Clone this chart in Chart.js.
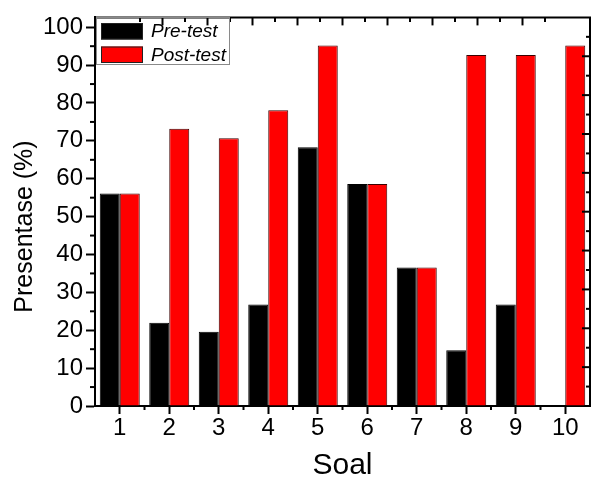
<!DOCTYPE html>
<html><head><meta charset="utf-8">
<script src="https://cdn.jsdelivr.net/npm/chart.js@4/dist/chart.umd.min.js"></script>
<style>html,body{margin:0;padding:0;background:#fff;}canvas{display:block;}</style>
</head><body>
<canvas id="c" width="593" height="477"></canvas>
<script>
const categories = ['1','2','3','4','5','6','7','8','9','10'];
const seriesNames = ['Pre-test','Post-test'];
const preTest  = [56.1, 22.0, 19.6, 26.8, 68.3, 58.6, 36.6, 14.7, 26.8, 0];
const postTest = [56.1, 73.2, 70.7, 78.1, 95.2, 58.6, 36.6, 92.7, 92.7, 95.2];
const yTicks = [0,10,20,30,40,50,60,70,80,90,100];
const yMinorTicks = [5,15,25,35,45,55,65,75,85,95];
const xMinorTicks = [1.5,2.5,3.5,4.5,5.5,6.5,7.5,8.5,9.5];
const topMajorTicks = [1,2,3,4,5,6,7,8,9];
const topMinorTicks = [0.5,1.5,2.5,3.5,4.5,5.5,6.5,7.5,8.5,9.5];
const rightMajorTicks = [10,20,30,40,50,60,70,80,90];
const rightMinorTicks = [5,15,25,35,45,55,65,75,85,95];

const FONT = "'Liberation Sans', Arial, sans-serif";

const framePlugin = {
  id: 'frame',
  afterDraw(chart) {
    const {ctx, chartArea: a, scales} = chart;
    ctx.save();
    ctx.strokeStyle = '#000';
    ctx.lineWidth = 2;
    ctx.lineCap = 'butt';
    const seg = (x1, y1, x2, y2) => { ctx.beginPath(); ctx.moveTo(x1, y1); ctx.lineTo(x2, y2); ctx.stroke(); };
    ctx.beginPath();
    ctx.moveTo(a.left - 1, a.top);
    ctx.lineTo(a.right, a.top);
    ctx.lineTo(a.right, a.bottom + 1);
    ctx.stroke();
    yMinorTicks.forEach(v => { const y = scales.y.getPixelForValue(v); seg(a.left - 5, y, a.left, y); });
    xMinorTicks.forEach(v => { const x = scales.x.getPixelForValue(v - 1); seg(x, a.bottom, x, a.bottom + 4); });
    topMajorTicks.forEach(v => { const x = scales.x2.getPixelForValue(v); seg(x, a.top, x, a.top + 8); });
    topMinorTicks.forEach(v => { const x = scales.x2.getPixelForValue(v); seg(x, a.top, x, a.top + 4.5); });
    rightMajorTicks.forEach(v => { const y = scales.y2.getPixelForValue(v); seg(a.right, y, a.right - 8, y); });
    rightMinorTicks.forEach(v => { const y = scales.y2.getPixelForValue(v); seg(a.right, y, a.right - 4, y); });

    ctx.lineWidth = 1;
    ctx.strokeStyle = '#8a8a8a';
    ctx.strokeRect(96.5, 17.5, 133, 47);
    const ds = chart.data.datasets;
    const rows = [31, 54.5];
    ds.forEach((d, i) => {
      const cy = rows[i];
      ctx.fillStyle = d.backgroundColor;
      ctx.fillRect(101, cy - 8, 42, 16.5);
      ctx.strokeStyle = '#222';
      ctx.strokeRect(101.5, cy - 7.5, 41, 15.5);
      ctx.fillStyle = '#000';
      ctx.font = 'italic 19px ' + FONT;
      ctx.textAlign = 'left';
      ctx.textBaseline = 'middle';
      ctx.fillText(d.label, 151, cy + 1);
    });

    ctx.save();
    ctx.translate(25, 226.5);
    ctx.rotate(-Math.PI / 2);
    ctx.font = '25px ' + FONT;
    ctx.fillStyle = '#000';
    ctx.textAlign = 'center';
    ctx.textBaseline = 'middle';
    ctx.fillText('Presentase (%)', 0, 0);
    ctx.restore();
    ctx.restore();
  }
};

new Chart(document.getElementById('c'), {
  type: 'bar',
  data: {
    labels: categories,
    datasets: [
      { label: seriesNames[0], data: preTest, backgroundColor: '#000000', borderColor: '#000000', borderWidth: 1 },
      { label: seriesNames[1], data: postTest, backgroundColor: '#ff0000', borderColor: '#3a0000', borderWidth: 1 }
    ]
  },
  options: {
    responsive: false,
    animation: false,
    devicePixelRatio: 1,
    layout: { padding: { left: 0, right: 3, top: 14, bottom: 0 } },
    datasets: { bar: { categoryPercentage: 0.808, barPercentage: 1.0 } },
    plugins: { legend: { display: false }, tooltip: { enabled: false } },
    scales: {
      x: {
        type: 'category',
        offset: true,
        grid: { offset: false, drawOnChartArea: false, drawTicks: true, tickLength: 8, tickWidth: 2, tickColor: '#000' },
        border: { display: true, color: '#000', width: 2 },
        ticks: { color: '#000', font: { family: FONT, size: 24 }, padding: 0, maxRotation: 0, autoSkip: false },
        title: { display: true, text: 'Soal', color: '#000', font: { family: FONT, size: 30, lineHeight: 1 }, padding: { top: 0, bottom: -4 } },
        afterFit: s => { s.height = 71; }
      },
      y: {
        min: 0, max: 102.6,
        afterBuildTicks: s => { s.ticks = yTicks.map(v => ({ value: v })); },
        grid: { drawOnChartArea: false, drawTicks: true, tickLength: 9, tickWidth: 2, tickColor: '#000' },
        border: { display: true, color: '#000', width: 2 },
        ticks: { color: '#000', font: { family: FONT, size: 24 }, padding: 3 },
        afterFit: s => { s.width = 95; }
      },
      x2: { type: 'linear', position: 'top', min: 0, max: 10, display: false },
      y2: { type: 'linear', position: 'right', min: 0, max: 100, display: false }
    }
  },
  plugins: [framePlugin]
});
</script>
</body></html>
